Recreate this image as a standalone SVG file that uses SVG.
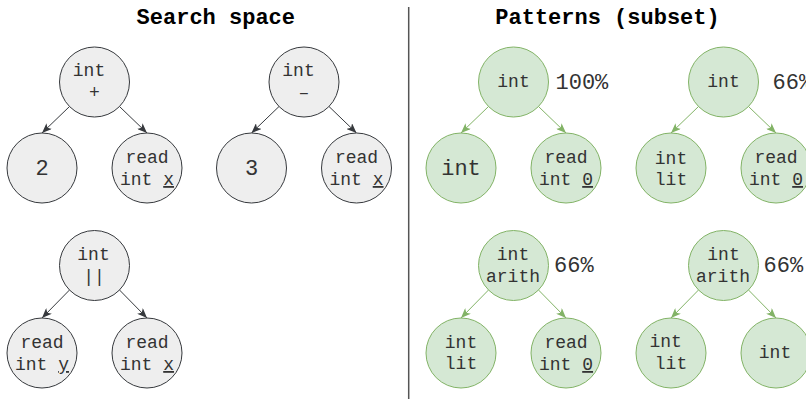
<svg xmlns="http://www.w3.org/2000/svg" width="806" height="399" viewBox="0 0 806 399">
  <defs>
    <style>
      .gray { fill: #eeeeee; stroke: #36393d; stroke-width: 1; }
      .green { fill: #d5e8d4; stroke: #82b366; stroke-width: 1; }
      .edge-gray { stroke: #36393d; stroke-width: 1; fill: none; marker-end: url(#arrow-gray); }
      .edge-green { stroke: #82b366; stroke-width: 1; fill: none; marker-end: url(#arrow-green); }
      text { font-family: "Courier New", "Liberation Mono", monospace; fill: #333333; }
      .t { font-size: 18px; text-anchor: middle; }
      .big { font-size: 22px; text-anchor: middle; }
      .pct { font-size: 22px; text-anchor: start; }
      .title { font-size: 22px; font-weight: bold; text-anchor: middle; fill: #000000; }
      .u { text-decoration: underline; }
    </style>
    <marker id="arrow-gray" viewBox="0 0 10 8" refX="10" refY="4" markerWidth="10" markerHeight="8" markerUnits="userSpaceOnUse" orient="auto">
      <path d="M0,0 L10,4 L0,8 L2.5,4 Z" fill="#36393d"/>
    </marker>
    <marker id="arrow-green" viewBox="0 0 10 8" refX="10" refY="4" markerWidth="10" markerHeight="8" markerUnits="userSpaceOnUse" orient="auto">
      <path d="M0,0 L10,4 L0,8 L2.5,4 Z" fill="#82b366"/>
    </marker>
  </defs>

  <rect width="806" height="399" fill="#ffffff"/>

  <!-- headings and divider -->
  <g id="headings">
    <text class="title" x="215.8" y="24">Search space</text>
    <text class="title" x="607.5" y="24">Patterns (subset)</text>
    <line x1="408.7" y1="7" x2="408.7" y2="399" stroke="#555555" stroke-width="1.5"/>
  </g>

  <!-- connectors -->
  <g id="connectors">
    <line class="edge-gray" x1="69.5" y1="106.5" x2="42" y2="133"/>
    <line class="edge-gray" x1="119.5" y1="106.5" x2="147" y2="133"/>
    <line class="edge-gray" x1="279" y1="106.5" x2="251.5" y2="133"/>
    <line class="edge-gray" x1="329" y1="106.5" x2="356.5" y2="133"/>
    <line class="edge-gray" x1="69.5" y1="290" x2="42" y2="318"/>
    <line class="edge-gray" x1="119.5" y1="290" x2="147" y2="318"/>

    <line class="edge-green" x1="488.5" y1="106.5" x2="461" y2="133"/>
    <line class="edge-green" x1="538.5" y1="106.5" x2="566" y2="133"/>
    <line class="edge-green" x1="698.5" y1="106.5" x2="671" y2="133"/>
    <line class="edge-green" x1="748.5" y1="106.5" x2="776" y2="133"/>
    <line class="edge-green" x1="488.5" y1="290" x2="461" y2="318"/>
    <line class="edge-green" x1="538.5" y1="290" x2="566" y2="318"/>
    <line class="edge-green" x1="698.5" y1="290" x2="671" y2="318"/>
    <line class="edge-green" x1="748.5" y1="290" x2="776" y2="318"/>
  </g>

  <!-- search space: int + -->
  <g id="plus-root">
    <circle class="gray" cx="94.5" cy="82" r="35"/>
    <text class="t" x="89" y="76">int</text>
    <text class="t" x="94.5" y="98">+</text>
  </g>
  <g id="plus-lhs">
    <circle class="gray" cx="42" cy="168" r="35"/>
    <text class="big" x="42" y="175">2</text>
  </g>
  <g id="plus-rhs">
    <circle class="gray" cx="147" cy="168" r="35"/>
    <text class="t" x="147" y="163">read</text>
    <text class="t" x="147" y="185">int <tspan class="u">x</tspan></text>
  </g>

  <!-- search space: int - -->
  <g id="minus-root">
    <circle class="gray" cx="304" cy="82" r="35"/>
    <text class="t" x="298.5" y="76">int</text>
    <text class="t" x="304" y="98">–</text>
  </g>
  <g id="minus-lhs">
    <circle class="gray" cx="251.5" cy="168" r="35"/>
    <text class="big" x="251.5" y="175">3</text>
  </g>
  <g id="minus-rhs">
    <circle class="gray" cx="356.5" cy="168" r="35"/>
    <text class="t" x="356.5" y="163">read</text>
    <text class="t" x="356.5" y="185">int <tspan class="u">x</tspan></text>
  </g>

  <!-- search space: int || -->
  <g id="or-root">
    <circle class="gray" cx="94.5" cy="265.5" r="35"/>
    <text class="t" x="93.5" y="259.5">int</text>
    <text class="t" x="94" y="282">||</text>
  </g>
  <g id="or-lhs">
    <circle class="gray" cx="42" cy="353" r="35"/>
    <text class="t" x="42" y="348">read</text>
    <text class="t" x="42" y="370">int <tspan class="u">y</tspan></text>
  </g>
  <g id="or-rhs">
    <circle class="gray" cx="147" cy="353" r="35"/>
    <text class="t" x="147" y="348">read</text>
    <text class="t" x="147" y="370">int <tspan class="u">x</tspan></text>
  </g>

  <!-- pattern 1 -->
  <g id="p1-root">
    <circle class="green" cx="513.5" cy="82" r="35"/>
    <text class="t" x="513.5" y="87">int</text>
    <text class="pct" x="555.5" y="88.5">100%</text>
  </g>
  <g id="p1-lhs">
    <circle class="green" cx="461" cy="168" r="35"/>
    <text class="big" x="461" y="175">int</text>
  </g>
  <g id="p1-rhs">
    <circle class="green" cx="566" cy="168" r="35"/>
    <text class="t" x="566" y="163">read</text>
    <text class="t" x="566" y="185">int <tspan class="u">0</tspan></text>
  </g>

  <!-- pattern 2 -->
  <g id="p2-root">
    <circle class="green" cx="723.5" cy="82" r="35"/>
    <text class="t" x="723.5" y="87">int</text>
    <text class="pct" x="772.5" y="88.5">66%</text>
  </g>
  <g id="p2-lhs">
    <circle class="green" cx="671" cy="168" r="35"/>
    <text class="t" x="671" y="163.5">int</text>
    <text class="t" x="671" y="185">lit</text>
  </g>
  <g id="p2-rhs">
    <circle class="green" cx="776" cy="168" r="35"/>
    <text class="t" x="776" y="163">read</text>
    <text class="t" x="776" y="185">int <tspan class="u">0</tspan></text>
  </g>

  <!-- pattern 3 -->
  <g id="p3-root">
    <circle class="green" cx="513.5" cy="265.5" r="35"/>
    <text class="t" x="513" y="259.5">int</text>
    <text class="t" x="513" y="281.5">arith</text>
    <text class="pct" x="554" y="272">66%</text>
  </g>
  <g id="p3-lhs">
    <circle class="green" cx="461" cy="353" r="35"/>
    <text class="t" x="461" y="347.5">int</text>
    <text class="t" x="461" y="369">lit</text>
  </g>
  <g id="p3-rhs">
    <circle class="green" cx="566" cy="353" r="35"/>
    <text class="t" x="566" y="348">read</text>
    <text class="t" x="566" y="370">int <tspan class="u">0</tspan></text>
  </g>

  <!-- pattern 4 -->
  <g id="p4-root">
    <circle class="green" cx="723.5" cy="265.5" r="35"/>
    <text class="t" x="723.5" y="259.5">int</text>
    <text class="t" x="723" y="281.5">arith</text>
    <text class="pct" x="763.5" y="272">66%</text>
  </g>
  <g id="p4-lhs">
    <circle class="green" cx="671" cy="353" r="35"/>
    <text class="t" x="665.6" y="347">int</text>
    <text class="t" x="671" y="368.5">lit</text>
  </g>
  <g id="p4-rhs">
    <circle class="green" cx="776" cy="353" r="35"/>
    <text class="t" x="775" y="358">int</text>
  </g>
</svg>
